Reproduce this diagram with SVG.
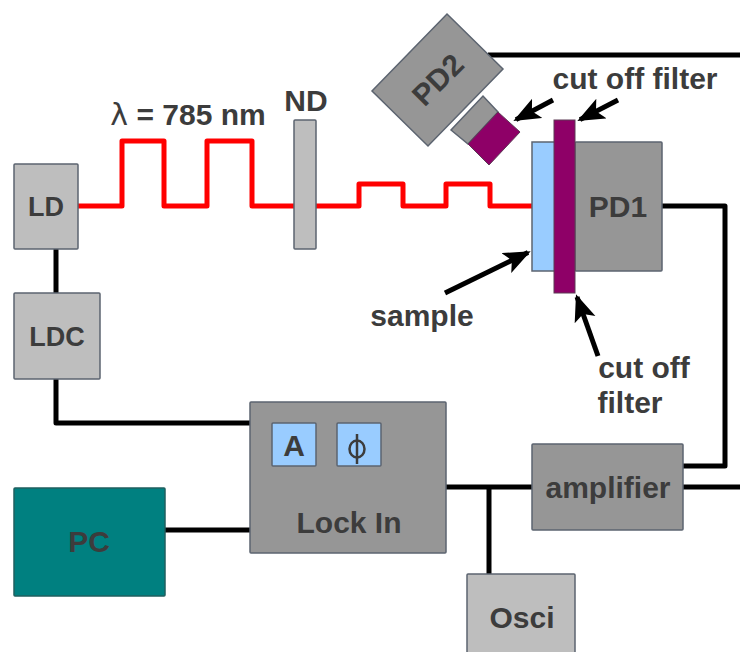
<svg xmlns="http://www.w3.org/2000/svg" width="740" height="652" viewBox="0 0 740 652">
<defs>
<marker id="ah" markerUnits="userSpaceOnUse" markerWidth="32" markerHeight="26" refX="24" refY="11" orient="auto"><path d="M0 0L27 11L0 22L6 11Z" fill="#000"/></marker>
</defs>
<style>
text{font-family:"Liberation Sans",Arial,sans-serif;font-weight:700;fill:#3c3c3c;font-size:30px;text-anchor:middle}
.sm{font-size:27px}
.s{stroke:#5c6470;stroke-width:1.5}
.dk{fill:#969696}.lt{fill:#bebebe}.blue{fill:#99ccff}.pur{fill:#8e0067;stroke:#5c3a55;stroke-width:1}
.w{fill:none;stroke:#000;stroke-width:5;stroke-linejoin:round}
.r{fill:none;stroke:#ff0000;stroke-width:5;stroke-linejoin:round}
.a{fill:none;stroke:#000;stroke-width:5;marker-end:url(#ah)}
</style>
<rect width="740" height="652" fill="#fff"/>
<g id="connectors">
<path class="r" d="M78 206H122V141H164V206H207V141H252V206H294"/>
<path class="r" d="M316 206H359V184H403V206H446V184H490V206H532"/>
<path class="w" d="M488 55H740"/>
<path class="w" d="M662 206H725V466H683"/>
<path class="w" d="M683 487H740"/>
<path class="w" d="M445 487H532"/>
<path class="w" d="M489 487V574"/>
<path class="w" d="M56 248V293"/>
<path class="w" d="M56 379V423H250"/>
<path class="w" d="M165 530H250"/>
<path class="a" d="M553 100L516 119.6"/>
<path class="a" d="M618 100L580 119.6"/>
<path class="a" d="M445 293L528 252.5"/>
<path class="a" d="M598 356L577 297"/>
</g>
<g id="LD"><rect class="lt s" x="14" y="164" width="64" height="85" rx="1"/><text class="sm" x="46" y="216">LD</text></g>
<g id="LDC"><rect class="lt s" x="14" y="293" width="86" height="86" rx="1"/><text class="sm" x="57" y="346">LDC</text></g>
<g id="ND"><rect class="lt s" x="294" y="120" width="22" height="129" rx="1"/><text x="306" y="111">ND</text></g>
<g id="wavelength"><text x="188" y="125"><tspan font-family="DejaVu Sans" font-weight="400">λ</tspan> = 785 nm</text></g>
<g id="PD2">
<path class="dk s" d="M447 14L503 69L428 146L372 91Z"/>
<text transform="translate(438 80) rotate(-45)" x="0" y="10">PD2</text>
<path class="dk s" d="M451 130L483 96L498 112L468 144Z"/>
<path class="pur" d="M468 144L498 112L520 132L489 165Z"/>
</g>
<g id="sample"><rect class="blue s" x="532" y="142" width="23" height="129"/><text x="422" y="326">sample</text></g>
<g id="PD1"><rect class="dk s" x="575" y="142" width="87" height="129" rx="1"/><text x="618" y="217">PD1</text></g>
<g id="filter"><rect class="pur" x="554" y="120" width="21" height="173"/></g>
<g id="filter-label1"><text x="635" y="89">cut off filter</text></g>
<g id="filter-label2"><text x="644" y="378">cut off</text><text x="630" y="413">filter</text></g>
<g id="LockIn">
<rect class="dk s" x="250" y="402" width="196" height="151" rx="1"/>
<rect class="blue s" x="272" y="423" width="44" height="43" rx="1"/><text x="294" y="456">A</text>
<rect class="blue s" x="337" y="423" width="44" height="43" rx="1"/>
<g fill="none" stroke="#3c3c3c" stroke-width="2.5"><ellipse cx="357" cy="449" rx="7.5" ry="8.5"/><path d="M357 434V464"/></g>
<text x="349" y="533">Lock In</text>
</g>
<g id="amplifier"><rect class="dk s" x="532" y="444" width="151" height="86" rx="1"/><text x="608" y="498">amplifier</text></g>
<g id="PC"><rect fill="#008080" stroke="#1f5f5f" stroke-width="1.5" x="14" y="488" width="151" height="108" rx="1"/><text x="89" y="552">PC</text></g>
<g id="Osci"><rect class="lt s" x="467" y="574" width="108" height="90" rx="1"/><text x="522" y="628">Osci</text></g>
</svg>
